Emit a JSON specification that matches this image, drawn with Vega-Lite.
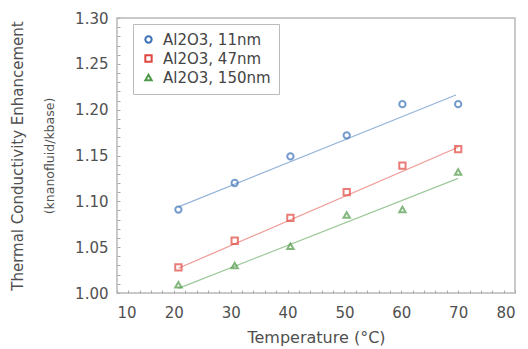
{
  "$schema": "https://vega.github.io/schema/vega-lite/v6.json",
  "width": 398,
  "height": 275,
  "autosize": {"type": "none"},
  "padding": {"left": 117, "top": 18, "right": 13, "bottom": 56},
  "background": "white",
  "config": {
    "font": "DejaVu Sans",
    "view": {"stroke": "#b8b8b8", "strokeWidth": 1.5},
    "axis": {"domain": false, "grid": false, "labelColor": "#505050", "titleColor": "#505050", "labelFontSize": 15, "titleFontWeight": "normal", "tickColor": "#aaa"}
  },
  "datasets": {
    "pts": [
      {"t": 20.8, "k": 1.091, "s": "Al2O3, 11nm"},
      {"t": 30.7, "k": 1.120, "s": "Al2O3, 11nm"},
      {"t": 40.5, "k": 1.149, "s": "Al2O3, 11nm"},
      {"t": 50.4, "k": 1.172, "s": "Al2O3, 11nm"},
      {"t": 60.2, "k": 1.206, "s": "Al2O3, 11nm"},
      {"t": 70.0, "k": 1.206, "s": "Al2O3, 11nm"},
      {"t": 20.8, "k": 1.028, "s": "Al2O3, 47nm"},
      {"t": 30.7, "k": 1.057, "s": "Al2O3, 47nm"},
      {"t": 40.5, "k": 1.082, "s": "Al2O3, 47nm"},
      {"t": 50.4, "k": 1.110, "s": "Al2O3, 47nm"},
      {"t": 60.2, "k": 1.139, "s": "Al2O3, 47nm"},
      {"t": 70.0, "k": 1.157, "s": "Al2O3, 47nm"},
      {"t": 20.8, "k": 1.009, "s": "Al2O3, 150nm"},
      {"t": 30.7, "k": 1.030, "s": "Al2O3, 150nm"},
      {"t": 40.5, "k": 1.051, "s": "Al2O3, 150nm"},
      {"t": 50.4, "k": 1.085, "s": "Al2O3, 150nm"},
      {"t": 60.2, "k": 1.091, "s": "Al2O3, 150nm"},
      {"t": 70.0, "k": 1.132, "s": "Al2O3, 150nm"}
    ],
    "fit": [
      {"t": 20.8, "k": 1.094, "s": "Al2O3, 11nm"},
      {"t": 69.6, "k": 1.216, "s": "Al2O3, 11nm"},
      {"t": 20.8, "k": 1.027, "s": "Al2O3, 47nm"},
      {"t": 70.0, "k": 1.159, "s": "Al2O3, 47nm"},
      {"t": 20.8, "k": 1.005, "s": "Al2O3, 150nm"},
      {"t": 70.0, "k": 1.125, "s": "Al2O3, 150nm"}
    ]
  },
  "encoding": {
    "x": {"field": "t", "type": "quantitative", "scale": {"domain": [10, 80], "nice": false},
      "axis": {"values": [10, 12, 14, 16, 18, 20, 22, 24, 26, 28, 30, 32, 34, 36, 38, 40, 42, 44, 46, 48, 50, 52, 54, 56, 58, 60, 62, 64, 66, 68, 70, 72, 74, 76, 78, 80],
        "labelExpr": "datum.value % 10 == 0 ? datum.label : ''", "tickSize": -3, "labelPadding": 15, "labelFontSize": 15,
        "title": "Temperature (°C)", "titleFontSize": 16, "titlePadding": 9}},
    "color": {"field": "s", "type": "nominal",
      "scale": {"domain": ["Al2O3, 11nm", "Al2O3, 47nm", "Al2O3, 150nm"], "range": ["#3d72b8", "#e0463e", "#4f9a48"]},
      "legend": {"title": null, "orient": "none", "legendX": 16, "legendY": 6, "strokeColor": "#bbb", "padding": 8, "labelFontSize": 15, "labelColor": "#444", "symbolSize": 40, "symbolStrokeWidth": 2, "symbolOpacity": 1, "rowPadding": 3, "labelOffset": 7}}
  },
  "layer": [
    {"data": {"name": "fit"}, "mark": {"type": "line", "strokeWidth": 1.2, "opacity": 0.55},
      "encoding": {
        "y": {"field": "k", "type": "quantitative", "scale": {"domain": [1.0, 1.3], "nice": false, "zero": false},
          "axis": {"values": [1.0, 1.01, 1.02, 1.03, 1.04, 1.05, 1.06, 1.07, 1.08, 1.09, 1.1, 1.11, 1.12, 1.13, 1.14, 1.15, 1.16, 1.17, 1.18, 1.19, 1.2, 1.21, 1.22, 1.23, 1.24, 1.25, 1.26, 1.27, 1.28, 1.29, 1.3],
            "format": ".2f", "labelExpr": "abs(round(datum.value*100) % 5) == 0 ? datum.label : ''", "tickSize": -3, "labelPadding": 12,
            "title": "(knanofluid/kbase)", "titleFontSize": 12.5, "titleX": -61}}
      }},
    {"data": {"name": "pts"}, "mark": {"type": "point", "filled": false, "strokeWidth": 2, "size": 40},
      "encoding": {
        "y": {"field": "k", "type": "quantitative", "scale": {"domain": [1.0, 1.3], "nice": false, "zero": false},
          "axis": {"orient": "left", "labels": false, "ticks": false, "domain": false, "title": "Thermal Conductivity Enhancement", "titleFontSize": 15, "titleX": -92}},
        "shape": {"field": "s", "type": "nominal", "scale": {"domain": ["Al2O3, 11nm", "Al2O3, 47nm", "Al2O3, 150nm"], "range": ["circle", "square", "triangle-up"]}}
      }}
  ],
  "resolve": {"scale": {"y": "independent"}}
}
